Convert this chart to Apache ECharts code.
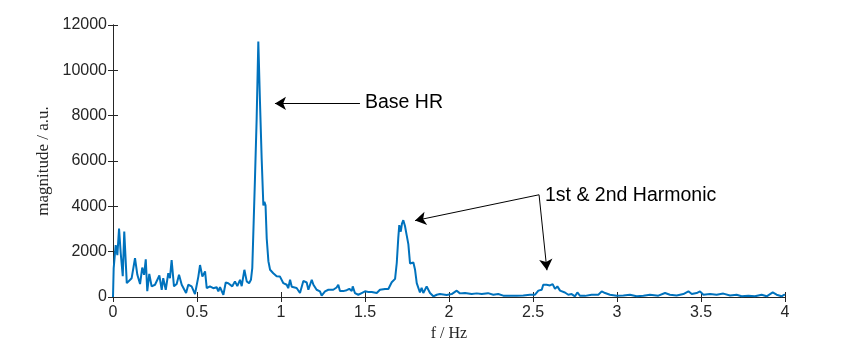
<!DOCTYPE html>
<html>
<head>
<meta charset="utf-8">
<script src="https://cdn.jsdelivr.net/npm/echarts@6/dist/echarts.min.js"></script>
<style>
  html, body { margin: 0; padding: 0; background: #fff; }
  #chart { width: 867px; height: 347px; }
</style>
</head>
<body>
<div id="chart"></div>
<script>
// frequency (Hz) and magnitude (a.u.)
var freqs = [
  0, 0.004, 0.016, 0.026, 0.036, 0.046, 0.058, 0.067, 0.082, 0.093,
  0.111, 0.131, 0.145, 0.161, 0.174, 0.185, 0.195, 0.204, 0.216, 0.230,
  0.250, 0.276, 0.290, 0.299, 0.314, 0.329, 0.339, 0.349, 0.363, 0.379,
  0.393, 0.409, 0.435, 0.448, 0.468, 0.488, 0.498, 0.508, 0.518, 0.532,
  0.548, 0.558, 0.577, 0.597, 0.617, 0.627, 0.637, 0.647, 0.657, 0.671,
  0.686, 0.696, 0.710, 0.726, 0.740, 0.756, 0.766, 0.782, 0.796, 0.810,
  0.821, 0.829, 0.845, 0.855, 0.865, 0.875, 0.885, 0.895, 0.901, 0.908,
  0.915, 0.925, 0.935, 0.954, 0.974, 0.994, 1.014, 1.034, 1.043, 1.054,
  1.064, 1.073, 1.093, 1.103, 1.113, 1.123, 1.133, 1.153, 1.163, 1.173,
  1.183, 1.193, 1.202, 1.212, 1.222, 1.232, 1.242, 1.262, 1.282, 1.292,
  1.311, 1.321, 1.331, 1.341, 1.351, 1.361, 1.370, 1.381, 1.391, 1.407,
  1.411, 1.421, 1.427, 1.440, 1.460, 1.480, 1.500, 1.520, 1.540, 1.570,
  1.589, 1.599, 1.619, 1.639, 1.659, 1.679, 1.689, 1.698, 1.704, 1.713,
  1.720, 1.728, 1.738, 1.748, 1.758, 1.768, 1.778, 1.788, 1.798, 1.808,
  1.811, 1.827, 1.837, 1.847, 1.857, 1.867, 1.877, 1.887, 1.897, 1.907,
  1.917, 1.927, 1.946, 1.986, 2.016, 2.046, 2.065, 2.095, 2.135, 2.165,
  2.195, 2.204, 2.232, 2.264, 2.293, 2.304, 2.323, 2.363, 2.403, 2.442,
  2.482, 2.512, 2.532, 2.552, 2.561, 2.581, 2.601, 2.617, 2.631, 2.645,
  2.661, 2.690, 2.710, 2.730, 2.750, 2.764, 2.780, 2.810, 2.849, 2.889,
  2.909, 2.929, 2.958, 2.998, 3.038, 3.077, 3.117, 3.157, 3.196, 3.246,
  3.286, 3.315, 3.355, 3.395, 3.425, 3.445, 3.474, 3.494, 3.514, 3.554,
  3.593, 3.633, 3.673, 3.712, 3.742, 3.782, 3.821, 3.861, 3.891, 3.927,
  3.950, 3.980, 3.994, 4.0
];
var mags = [
  0, 1270, 2290, 1850, 3020, 1930, 920, 2890, 610, 540,
  830, 1710, 980, 570, 1300, 980, 1660, 260, 1020, 470,
  540, 950, 320, 830, 320, 1050, 830, 1630, 470, 570,
  980, 540, 175, 540, 470, 130, 90, 900, 1410, 900,
  1130, 390, 470, 390, 430, 250, 430, 350, 100, 640,
  610, 540, 470, 690, 480, 760, 480, 1200, 690, 610,
  760, 1270, 5210, 7840, 11270, 8580, 6090, 4040, 4200, 4040,
  2580, 1580, 1200, 1050, 920, 900, 610, 540, 390, 760,
  450, 390, 400, 470, 175, 250, 710, 640, 320, 540,
  760, 540, 540, 320, 320, 250, 60, 250, 320, 320,
  320, 390, 420, 540, 260, 320, 260, 250, 300, 360,
  390, 260, 470, 175, 100, 175, 250, 220, 220, 175,
  320, 250, 350, 350, 650, 800, 1500, 2600, 3170, 2880,
  3240, 3390, 3130, 2730, 2330, 1480, 1560, 1520, 1200, 610,
  560, 200, 400, 175, 320, 470, 320, 175, 100, 30,
  90, 100, 130, 90, 130, 280, 160, 175, 130, 160,
  130, 130, 170, 100, 130, 150, 60, 50, 60, 70,
  100, 100, 280, 320, 540, 540, 510, 570, 360, 470,
  280, 200, 100, 130, 30, 200, 50, 50, 100, 100,
  250, 175, 100, 60, 70, 100, 30, 60, 100, 60,
  175, 100, 70, 130, 250, 130, 175, 250, 100, 130,
  100, 150, 70, 100, 30, 60, 30, 100, 30, 200,
  100, 30, 100, 80
];

// annotation anchors in data units: [f, magnitude]
var baseTail = [1.470, 8540], baseHead = [0.964, 8540];
var harmTail = [2.536, 4510], harm1Head = [1.798, 3370], harm2Head = [2.583, 1180];

var points = freqs.map(function (f, i) { return [f, mags[i]]; });

var axisColor = '#262626';
var tickFont = { color: axisColor, fontSize: 16, fontFamily: 'Liberation Sans, Arial, sans-serif' };
var plain = function (v) { return String(v); };

var chart = echarts.init(document.getElementById('chart'));
chart.setOption({
  animation: false,
  grid: { left: 113, right: 82, top: 25, bottom: 48 },
  xAxis: [{
    type: 'value', min: 0, max: 4, interval: 0.5,
    name: 'f / Hz', nameLocation: 'middle', nameGap: 29,
    nameTextStyle: { color: axisColor, fontSize: 16, fontFamily: 'Liberation Serif, serif' },
    axisLine: { lineStyle: { color: axisColor, width: 1 } },
    axisTick: { inside: true, length: 5, lineStyle: { color: axisColor } },
    axisLabel: Object.assign({ margin: 8, formatter: plain }, tickFont),
    splitLine: { show: false }
  }, {
    type: 'value', min: 0, max: 4, interval: 0.5, position: 'top',
    axisLine: { lineStyle: { color: axisColor, width: 1 } },
    axisTick: { inside: true, length: 5, lineStyle: { color: axisColor } },
    axisLabel: { show: false },
    splitLine: { show: false }
  }],
  yAxis: [{
    type: 'value', min: 0, max: 12000, interval: 2000,
    name: 'magnitude / a.u.', nameLocation: 'middle', nameGap: 52,
    nameTextStyle: { color: axisColor, fontSize: 17, fontFamily: 'Liberation Serif, serif' },
    axisLine: { show: true, lineStyle: { color: axisColor, width: 1 } },
    axisTick: { show: true, inside: true, length: 5, lineStyle: { color: axisColor } },
    axisLabel: Object.assign({ margin: 6, formatter: plain }, tickFont),
    splitLine: { show: false }
  }, {
    type: 'value', min: 0, max: 12000, interval: 2000, position: 'right',
    axisLine: { show: true, lineStyle: { color: axisColor, width: 1 } },
    axisTick: { show: true, inside: true, length: 5, lineStyle: { color: axisColor } },
    axisLabel: { show: false },
    splitLine: { show: false }
  }],
  graphic: [
    { type: 'text', left: 365, top: 93,
      style: { text: 'Base HR', fill: '#000', font: '19.5px "Liberation Sans", Arial, sans-serif' } },
    { type: 'text', left: 545, top: 186,
      style: { text: '1st & 2nd Harmonic', fill: '#000', font: '19.5px "Liberation Sans", Arial, sans-serif' } }
  ],
  series: [{
    type: 'line',
    data: points,
    showSymbol: false,
    symbol: 'none',
    lineStyle: { color: '#0072BD', width: 2 },
    markLine: {
      silent: true,
      symbol: ['none', 'arrow'],
      symbolSize: [10, 11],
      lineStyle: { color: '#000', width: 1, type: 'solid' },
      label: { show: false },
      data: [
        [{ coord: baseTail }, { coord: baseHead }],
        [{ coord: harmTail }, { coord: harm1Head }],
        [{ coord: harmTail }, { coord: harm2Head }]
      ]
    }
  }]
});
</script>
</body>
</html>
